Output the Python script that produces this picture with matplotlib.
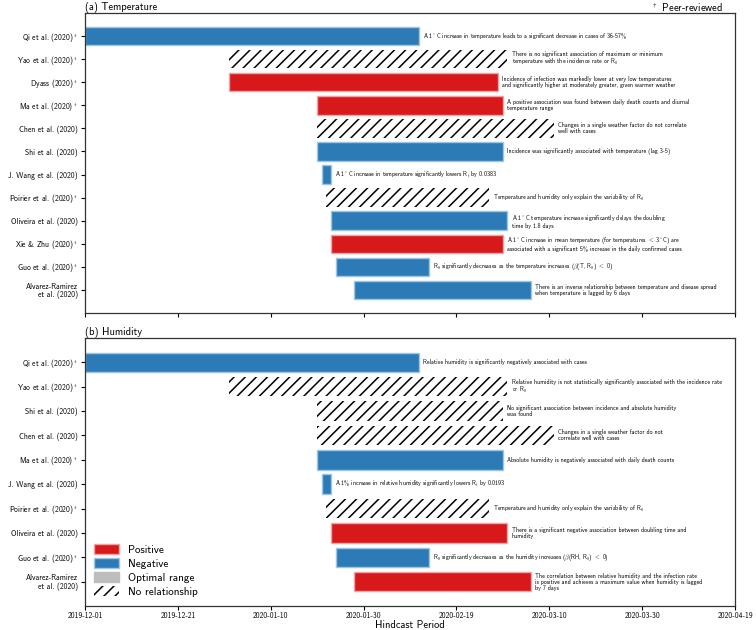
import matplotlib
matplotlib.use("Agg")
import matplotlib.pyplot as plt
import matplotlib.dates as mdates
from matplotlib.patches import Patch
import pandas as pd

plt.rcParams['font.family'] = ['cmss10', 'DejaVu Sans']
plt.rcParams['mathtext.fontset'] = 'cm'
plt.rcParams['axes.unicode_minus'] = False
plt.rcParams['hatch.linewidth'] = 1.1

# ---------------- data ----------------
temp_studies = [r"Qi et al. (2020)$^\dagger$", r"Yao et al. (2020)$^\dagger$", r"Dyass (2020)$^\dagger$",
                r"Ma et al. (2020)$^\dagger$", "Chen et al. (2020)", "Shi et al. (2020)",
                "J. Wang et al. (2020)", r"Poirier et al. (2020)$^\dagger$", "Oliveira et al. (2020)",
                r"Xie & Zhu (2020)$^\dagger$", r"Guo et al. (2020)$^\dagger$", "Alvarez-Ramirez\net al. (2020)"]
temp_start = ["2019-12-01", "2020-01-01", "2020-01-01", "2020-01-20", "2020-01-20", "2020-01-20",
              "2020-01-21", "2020-01-22", "2020-01-23", "2020-01-23", "2020-01-24", "2020-01-28"]
temp_end = ["2020-02-11", "2020-03-01", "2020-02-28", "2020-02-29", "2020-03-11", "2020-02-29",
            "2020-01-23", "2020-02-26", "2020-03-01", "2020-02-29", "2020-02-13", "2020-03-06"]
temp_effect = ["Negative", "None", "Positive", "Positive", "None", "Negative",
               "Negative", "None", "Negative", "Positive", "Negative", "Negative"]
temp_notes = [
    r"A 1$^\circ$C increase in temperature leads to a significant decrease in cases of 36-57%",
    "There is no significant association of maximum or minimum\ntemperature with the incidence rate or R$_0$",
    "Incidence of infection was markedly lower at very low temperatures\nand significantly higher at moderately greater, given warmer weather",
    "A positive association was found between daily death counts and diurnal\ntemperature range",
    "Changes in a single weather factor do not correlate\nwell with cases",
    "Incidence was significantly associated with temperature (lag 3-5)",
    r"A 1$^\circ$C increase in temperature significantly lowers R$_t$ by 0.0383",
    "Temperature and humidity only explain the variability of R$_0$",
    r"A 1$^\circ$C temperature increase significantly delays the doubling" + "\ntime by 1.8 days",
    r"A 1$^\circ$C increase in mean temperature (for temperatures $<$ 3$^\circ$C) are" + "\nassociated with a significant 5% increase in the daily confirmed cases",
    r"R$_0$ significantly decreases as the temperature increases ($\beta$(T, R$_0$) $<$ 0)",
    "There is an inverse relationship between temperature and disease spread\nwhen temperature is lagged by 6 days",
]

hum_studies = [r"Qi et al. (2020)$^\dagger$", r"Yao et al. (2020)$^\dagger$", "Shi et al. (2020)",
               "Chen et al. (2020)", r"Ma et al. (2020)$^\dagger$", "J. Wang et al. (2020)",
               r"Poirier et al. (2020)$^\dagger$", "Oliveira et al. (2020)", r"Guo et al. (2020)$^\dagger$",
               "Alvarez-Ramirez\net al. (2020)"]
hum_start = ["2019-12-01", "2020-01-01", "2020-01-20", "2020-01-20", "2020-01-20",
             "2020-01-21", "2020-01-22", "2020-01-23", "2020-01-24", "2020-01-28"]
hum_end = ["2020-02-11", "2020-03-01", "2020-02-29", "2020-03-11", "2020-02-29",
           "2020-01-23", "2020-02-26", "2020-03-01", "2020-02-13", "2020-03-06"]
hum_effect = ["Negative", "None", "None", "None", "Negative",
              "Negative", "None", "Positive", "Negative", "Positive"]
hum_notes = [
    "Relative humidity is significantly negatively associated with cases",
    "Relative humidity is not statistically significantly associated with the incidence rate\nor R$_0$",
    "No significant association between incidence and absolute humidity\nwas found",
    "Changes in a single weather factor do not\ncorrelate well with cases",
    "Absolute humidity is negatively associated with daily death counts",
    "A 1% increase in relative humidity significantly lowers R$_t$ by 0.0193",
    "Temperature and humidity only explain the variability of R$_0$",
    "There is a significant negative association between doubling time and\nhumidity",
    r"R$_0$ significantly decreases as the humidity increases ($\beta$(RH, R$_0$) $<$ 0)",
    "The correlation between relative humidity and the infection rate\nis positive and achieves a maximum value when humidity is lagged\nby 7 days",
]

legend_labels = ["Positive", "Negative", "Optimal range", "No relationship"]
x_min, x_max = "2019-12-01", "2020-04-19"
tick_dates = pd.date_range("2019-12-01", "2020-04-19", freq="20D")

# ---------------- style ----------------
RED = "#d7191c"
BLUE = "#2c7bb6"
GREY = "#bdbdbd"
style = {
    "Positive": dict(facecolor=RED, edgecolor="#f2a3a4", linewidth=1.0),
    "Negative": dict(facecolor=BLUE, edgecolor="#9ec5e3", linewidth=1.0),
    "None": dict(facecolor="white", edgecolor="black", linewidth=0, hatch="///"),
}

W, H = 756, 630
fig = plt.figure(figsize=(W / 100, H / 100), dpi=100)
ax1 = fig.add_axes([85 / W, 1 - 313 / H, 650 / W, 300 / H])
ax2 = fig.add_axes([85 / W, 1 - 606 / H, 650 / W, 268 / H], sharex=ax1)


def draw(ax, studies, start, end, effect, notes, title):
    s = pd.to_datetime(start)
    e = pd.to_datetime(end)
    for i in range(len(studies)):
        left = mdates.date2num(s[i])
        width = mdates.date2num(e[i]) - left
        ax.barh(i, width, left=left, height=0.8, **style[effect[i]])
        ax.annotate(notes[i], xy=(left + width, i), xytext=(3, 0),
                    textcoords="offset points", ha="left", va="center",
                    fontsize=4.3, linespacing=1.0)
    ax.set_yticks(range(len(studies)))
    ax.set_yticklabels(studies, fontsize=5.5, linespacing=1.0)
    ax.set_ylim(len(studies), -1)
    ax.set_title(title, loc="left", fontsize=7.5, pad=2)
    for sp in ax.spines.values():
        sp.set_color("#333333")
        sp.set_linewidth(0.9)
    ax.tick_params(axis="both", length=3, width=0.8, pad=2)


draw(ax1, temp_studies, temp_start, temp_end, temp_effect, temp_notes, "(a) Temperature")
draw(ax2, hum_studies, hum_start, hum_end, hum_effect, hum_notes, "(b) Humidity")

ax1.set_xlim(mdates.date2num(pd.Timestamp(x_min)), mdates.date2num(pd.Timestamp(x_max)))
ax2.set_xticks([mdates.date2num(d) for d in tick_dates])
ax2.xaxis.set_major_formatter(mdates.DateFormatter("%Y-%m-%d"))
ax2.tick_params(axis="x", labelsize=5.5, pad=1.5)
plt.setp(ax1.get_xticklabels(), visible=False)
ax2.set_xlabel("Hindcast Period", fontsize=7.5, labelpad=-0.5)

handles = [Patch(facecolor=RED, edgecolor="#f2a3a4", linewidth=1.0),
           Patch(facecolor=BLUE, edgecolor="#9ec5e3", linewidth=1.0),
           Patch(facecolor=GREY, edgecolor=GREY),
           Patch(facecolor="white", edgecolor="black", linewidth=0, hatch="///")]
ax2.legend(handles, legend_labels, loc="lower left", frameon=False, fontsize=8,
           handlelength=2.3, handleheight=1.0, labelspacing=0.3, borderaxespad=0.4)

fig.text(723 / W, 1 - 8 / H, r"$^\dagger$ Peer-reviewed", ha="right", va="center", fontsize=7.5)

fig.savefig("out.png", dpi=100)
